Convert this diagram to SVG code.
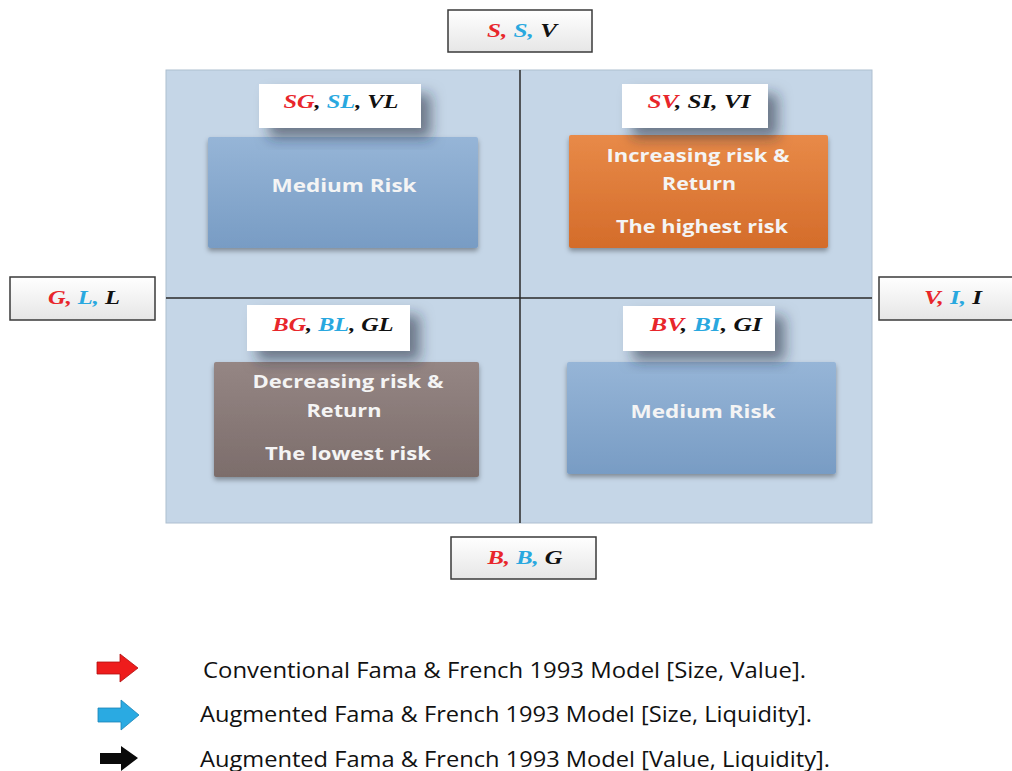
<svg xmlns="http://www.w3.org/2000/svg" width="1012" height="771" viewBox="0 0 1012 771">
<style>
.lbl{font-family:"Liberation Serif",serif;font-weight:bold;font-style:italic;font-size:18px;text-anchor:middle}
.r{fill:#e8262b}.c{fill:#29a8df}.k{fill:#111}
.nt{font-family:"Open Sans","Liberation Sans",sans-serif;font-weight:bold;font-size:18px;fill:#f4f4f4;text-anchor:middle}
.lg{font-family:"Open Sans","Liberation Sans",sans-serif;font-size:21px;fill:#111}
.side{fill:url(#sg);stroke:#3a3a3a;stroke-width:1.5}
.wbox{fill:#fff}
</style>
<defs>
<linearGradient id="sg" x1="0" y1="0" x2="0" y2="1"><stop offset="0" stop-color="#ffffff"/><stop offset="1" stop-color="#e6e6e6"/></linearGradient>
<linearGradient id="bg" x1="0" y1="0" x2="0" y2="1"><stop offset="0" stop-color="#96b5d7"/><stop offset="1" stop-color="#789cc4"/></linearGradient>
<linearGradient id="og" x1="0" y1="0" x2="0" y2="1"><stop offset="0" stop-color="#e88a48"/><stop offset="1" stop-color="#d46c2a"/></linearGradient>
<linearGradient id="gg" x1="0" y1="0" x2="0" y2="1"><stop offset="0" stop-color="#958684"/><stop offset="1" stop-color="#7c6d6b"/></linearGradient>
<filter id="ds" x="-20%" y="-20%" width="150%" height="170%"><feDropShadow dx="10" dy="10" stdDeviation="7" flood-color="#1a2a3a" flood-opacity="0.55"/></filter>
<filter id="ns" x="-10%" y="-10%" width="120%" height="130%"><feDropShadow dx="0" dy="3" stdDeviation="2.5" flood-color="#000" flood-opacity="0.35"/></filter>
</defs>
<g id="grid">
<rect x="166" y="70" width="706" height="453" fill="#c5d6e7" stroke="#aebfd0" stroke-width="1"/>
</g>
<g id="connectors">
<line x1="520" y1="70" x2="520" y2="523" stroke="#2a2a2a" stroke-width="1.5"/>
<line x1="166" y1="298" x2="872" y2="298" stroke="#2a2a2a" stroke-width="1.5"/>
</g>
<g id="top-axis"><rect class="side" x="448" y="10" width="144" height="42"/>
<text class="lbl" x="522" y="37" textLength="70" lengthAdjust="spacingAndGlyphs"><tspan class="r">S, </tspan><tspan class="c">S, </tspan><tspan class="k">V</tspan></text></g>
<g id="left-axis"><rect class="side" x="10" y="277" width="145" height="43"/>
<text class="lbl" x="84" y="304" textLength="72" lengthAdjust="spacingAndGlyphs"><tspan class="r">G, </tspan><tspan class="c">L, </tspan><tspan class="k">L</tspan></text></g>
<g id="right-axis"><rect class="side" x="879" y="277" width="140" height="43"/>
<text class="lbl" x="953" y="304" textLength="58" lengthAdjust="spacingAndGlyphs"><tspan class="r">V, </tspan><tspan class="c">I, </tspan><tspan class="k">I</tspan></text></g>
<g id="bottom-axis"><rect class="side" x="451" y="537" width="145" height="42"/>
<text class="lbl" x="525" y="564" textLength="75" lengthAdjust="spacingAndGlyphs"><tspan class="r">B, </tspan><tspan class="c">B, </tspan><tspan class="k">G</tspan></text></g>

<g id="q-tl">
<rect x="208" y="137" width="270" height="111" rx="2" fill="url(#bg)" filter="url(#ns)"/>
<text class="nt" x="344" y="192" textLength="145" lengthAdjust="spacingAndGlyphs">Medium Risk</text>
<rect class="wbox" x="259" y="84" width="162" height="44" filter="url(#ds)"/>
<text class="lbl" x="341" y="108" textLength="115" lengthAdjust="spacingAndGlyphs"><tspan class="r">SG</tspan><tspan class="k">, </tspan><tspan class="c">SL</tspan><tspan class="k">, VL</tspan></text>
</g>
<g id="q-tr">
<rect x="569" y="135" width="259" height="113" rx="2" fill="url(#og)" filter="url(#ns)"/>
<text class="nt" x="698" y="162" textLength="183" lengthAdjust="spacingAndGlyphs">Increasing risk &amp;</text>
<text class="nt" x="699" y="190" textLength="74" lengthAdjust="spacingAndGlyphs">Return</text>
<text class="nt" x="702" y="233" textLength="172" lengthAdjust="spacingAndGlyphs">The highest risk</text>
<rect class="wbox" x="622" y="84" width="146" height="44" filter="url(#ds)"/>
<text class="lbl" x="699" y="108" textLength="103" lengthAdjust="spacingAndGlyphs"><tspan class="r">SV</tspan><tspan class="k">, SI, VI</tspan></text>
</g>
<g id="q-bl">
<rect x="214" y="362" width="265" height="115" rx="2" fill="url(#gg)" filter="url(#ns)"/>
<text class="nt" x="348" y="388" textLength="191" lengthAdjust="spacingAndGlyphs">Decreasing risk &amp;</text>
<text class="nt" x="344" y="417" textLength="75" lengthAdjust="spacingAndGlyphs">Return</text>
<text class="nt" x="348" y="460" textLength="166" lengthAdjust="spacingAndGlyphs">The lowest risk</text>
<rect class="wbox" x="247" y="305" width="163" height="46" filter="url(#ds)"/>
<text class="lbl" x="333" y="331" textLength="121" lengthAdjust="spacingAndGlyphs"><tspan class="r">BG</tspan><tspan class="k">, </tspan><tspan class="c">BL</tspan><tspan class="k">, GL</tspan></text>
</g>
<g id="q-br">
<rect x="567" y="362" width="269" height="112" rx="2" fill="url(#bg)" filter="url(#ns)"/>
<text class="nt" x="703" y="418" textLength="145" lengthAdjust="spacingAndGlyphs">Medium Risk</text>
<rect class="wbox" x="623" y="306" width="152" height="45" filter="url(#ds)"/>
<text class="lbl" x="706" y="331" textLength="112" lengthAdjust="spacingAndGlyphs"><tspan class="r">BV</tspan><tspan class="k">, </tspan><tspan class="c">BI</tspan><tspan class="k">, GI</tspan></text>
</g>

<g id="legend">
<path d="M97,662 H120 V654 L138,668 L120,682 V674 H97 Z" fill="#ee1c1c" stroke="#b01010" stroke-width="0.8"/>
<text class="lg" x="203" y="678" textLength="603" lengthAdjust="spacingAndGlyphs">Conventional Fama &amp; French 1993 Model [Size, Value].</text>
<path d="M98,708 H121 V700 L139,715 L121,730 V722 H98 Z" fill="#2aaae2" stroke="#1a84b6" stroke-width="0.8"/>
<text class="lg" x="200" y="722" textLength="612" lengthAdjust="spacingAndGlyphs">Augmented Fama &amp; French 1993 Model [Size, Liquidity].</text>
<path d="M100,753 H121 V746 L138,758 L121,771 V764 H100 Z" fill="#0a0a0a"/>
<text class="lg" x="200" y="767" textLength="630" lengthAdjust="spacingAndGlyphs">Augmented Fama &amp; French 1993 Model [Value, Liquidity].</text>
</g>
</svg>
